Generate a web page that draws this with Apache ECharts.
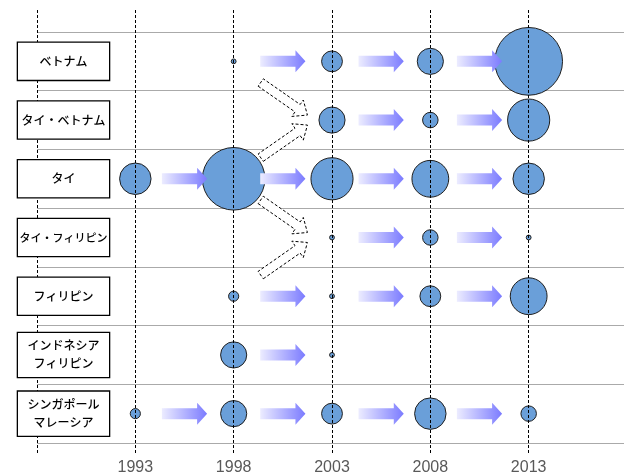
<!DOCTYPE html>
<html>
<head>
<meta charset="utf-8">
<script src="https://cdn.jsdelivr.net/npm/echarts@6/dist/echarts.min.js"></script>
<style>
  html, body { margin: 0; padding: 0; background: #fff; }
  #chart { width: 624px; height: 475px; }
</style>
</head>
<body>
<div id="chart"></div>
<script>
// Survey years shown on the horizontal axis
const tickYears = [1993, 1998, 2003, 2008, 2013];

// Country / country-pair rows, top to bottom
const rowNames = [
  'ベトナム',
  'タイ・ベトナム',
  'タイ',
  'タイ・フィリピン',
  'フィリピン',
  'インドネシア\nフィリピン',
  'シンガポール\nマレーシア'
];

// Bubble size values per row, one entry per survey year (null = no bubble)
const vietnam              = [null,   1, 16, 25, 164];
const thaiVietnam          = [null, null, 25,  9,  64];
const thai                 = [  36, 140, 64, 49,  36];
const thaiPhilippines      = [null, null,  1,  9,   1];
const philippines          = [null,   4,  1, 16,  49];
const indonesiaPhilippines = [null,  25,  1, null, null];
const singaporeMalaysia    = [   4,  25, 16, 36,   9];

// Shifts between rows: [fromYear, fromRow, toYear, toRow]
const transfers = [
  [1998, 0, 2003, 1],
  [1998, 2, 2003, 1],
  [1998, 2, 2003, 3],
  [1998, 4, 2003, 3]
];

const rowValues = [vietnam, thaiVietnam, thai, thaiPhilippines, philippines,
                   indonesiaPhilippines, singaporeMalaysia];

// Bubble points [year, row, value]
const bubbles = [];
// Forward arrows [fromYear, toYear, row] between consecutive bubbles of a row
const flows = [];
rowValues.forEach((vals, r) => {
  vals.forEach((v, i) => {
    if (v != null) bubbles.push([tickYears[i], r, v]);
    if (v != null && i + 1 < vals.length && vals[i + 1] != null) {
      flows.push([tickYears[i], tickYears[i + 1], r]);
    }
  });
});

function flowArrow(params, api) {
  const a = api.coord([api.value(0), api.value(2)]);
  const b = api.coord([api.value(1), api.value(2)]);
  const w = b[0] - a[0];
  const x0 = a[0] + 0.27 * w, x1 = a[0] + 0.73 * w, y = a[1];
  const sh = 5.5, hh = 11, hl = 10;
  return {
    type: 'polygon',
    shape: { points: [[x0, y - sh], [x1 - hl, y - sh], [x1 - hl, y - hh], [x1, y],
                      [x1 - hl, y + hh], [x1 - hl, y + sh], [x0, y + sh]] },
    style: {
      fill: new echarts.graphic.LinearGradient(0, 0, 1, 0, [
        { offset: 0, color: '#ececff' },
        { offset: 1, color: '#7b7bff' }
      ])
    }
  };
}

function transferArrow(params, api) {
  const a = api.coord([api.value(0), api.value(1)]);
  const b = api.coord([api.value(2), api.value(3)]);
  const sz = api.size([5, 1]);
  const colW = sz[0], rowH = sz[1];
  const s = Math.sign(b[1] - a[1]);
  const tail = [a[0] + 0.275 * colW, a[1] + s * 0.36 * rowH];
  const tip = [b[0] - 0.25 * colW, b[1] - s * 0.085 * rowH];
  const dx = tip[0] - tail[0], dy = tip[1] - tail[1];
  const L = Math.hypot(dx, dy);
  const u = [dx / L, dy / L], n = [-u[1], u[0]];
  const sw = 4.5, hw = 10, hl = 12;
  const base = [tip[0] - u[0] * hl, tip[1] - u[1] * hl];
  const p = (o, k) => [o[0] + n[0] * k, o[1] + n[1] * k];
  return {
    type: 'polygon',
    shape: { points: [p(tail, sw), p(base, sw), p(base, hw), tip,
                      p(base, -hw), p(base, -sw), p(tail, -sw)] },
    style: { fill: '#fff', stroke: '#000', lineWidth: 1, lineDash: [3, 2] }
  };
}

// Boxed row-label style
const boxLabel = {
  align: 'center', verticalAlign: 'middle',
  width: 91, backgroundColor: '#fff', borderColor: '#000', borderWidth: 1.3,
  padding: [11, 0], lineHeight: 15, fontSize: 12, fontWeight: 500, color: '#000',
  fontFamily: 'Noto Sans CJK JP', overflow: 'none'
};

function rowLabelItem(name) {
  if (name.indexOf('\n') >= 0) {
    return { value: name, textStyle: Object.assign({}, boxLabel, { lineHeight: 18, padding: [4, 0] }) };
  }
  if (name.length > 7) {
    return { value: name, textStyle: Object.assign({}, boxLabel, { fontSize: 11, padding: [11, 0] }) };
  }
  return name;
}

const chart = echarts.init(document.getElementById('chart'), null, { renderer: 'canvas' });

chart.setOption({
  animation: false,
  backgroundColor: '#fff',
  grid: [
    { left: 37, right: -3, top: 10, bottom: 22, outerBoundsMode: 'none', containLabel: false },
    { left: 37, right: -3, top: 32, bottom: 32, outerBoundsMode: 'none', containLabel: false }
  ],
  xAxis: [
    {
      gridIndex: 0, type: 'value', min: 1988, max: 2018, interval: 5, z: 3,
      axisLine: { show: false }, axisTick: { show: false },
      splitLine: { show: true, lineStyle: { color: '#000', width: 1, type: [3, 2] } },
      axisLabel: {
        formatter: v => (tickYears.indexOf(v) >= 0 ? String(v) : ''),
        color: '#595959', fontSize: 16, margin: 7, fontFamily: 'Liberation Sans'
      }
    },
    { gridIndex: 1, type: 'value', min: 1988, max: 2018, show: false }
  ],
  yAxis: [
    { gridIndex: 0, type: 'value', show: false },
    {
      gridIndex: 1, type: 'category', position: 'left', data: rowNames, inverse: true, z: 0,
      axisLine: { show: false }, axisTick: { show: false }, axisLabel: { show: false },
      splitLine: { show: true, lineStyle: { color: '#aaaaaa', width: 1 } }
    },
    {
      gridIndex: 1, type: 'category', position: 'left', offset: 0, inverse: true, z: 6,
      data: rowNames.map(rowLabelItem),
      axisLine: { show: false }, axisTick: { show: false }, splitLine: { show: false },
      axisLabel: Object.assign({ margin: -26.5 }, boxLabel)
    }
  ],
  series: [
    {
      type: 'scatter', xAxisIndex: 1, yAxisIndex: 1, z: 2,
      data: bubbles,
      symbolSize: d => 5.33 * Math.sqrt(d[2]) - 0.5,
      itemStyle: { color: '#6a9fd9', borderColor: '#1f1f1f', borderWidth: 1, opacity: 1 },
      emphasis: { disabled: true }
    },
    {
      type: 'custom', xAxisIndex: 1, yAxisIndex: 1, z: 4,
      data: flows, encode: { x: [0, 1], y: 2 },
      renderItem: flowArrow, silent: true
    },
    {
      type: 'custom', xAxisIndex: 1, yAxisIndex: 1, z: 4,
      data: transfers, encode: { x: [0, 2], y: [1, 3] },
      renderItem: transferArrow, silent: true
    }
  ]
});
</script>
</body>
</html>
